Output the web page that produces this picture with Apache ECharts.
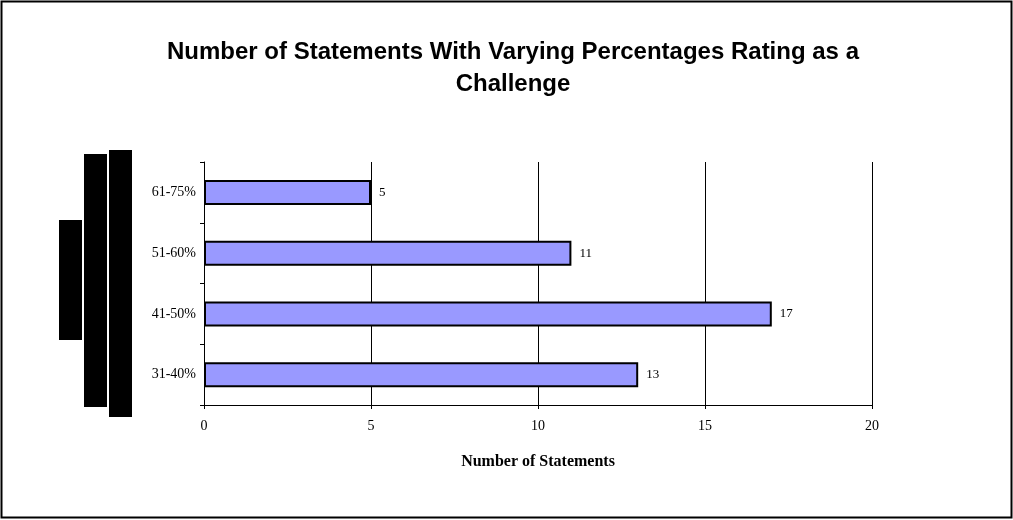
<!DOCTYPE html>
<html><head><meta charset="utf-8">
<script src="https://cdn.jsdelivr.net/npm/echarts@6/dist/echarts.min.js"></script>
<style>html,body{margin:0;padding:0;background:#fff}#c{width:1013px;height:520px}</style>
</head><body><div id="c"></div>
<script>
const categories = ['31-40%', '41-50%', '51-60%', '61-75%'];
const values = [13, 17, 11, 5];
const xTicks = [0, 5, 10, 15, 20];
const titleText = 'Number of Statements With Varying Percentages Rating as a\nChallenge';
const xName = 'Number of Statements';

const chart = echarts.init(document.getElementById('c'), null, {renderer: 'canvas'});
chart.setOption({
  animation: false,
  backgroundColor: '#fff',
  title: {
    text: titleText, left: 508, top: 31, textAlign: 'center',
    textStyle: {fontFamily: 'Liberation Sans, Arial', fontWeight: 'bold', fontSize: 24, color: '#000', lineHeight: 32}
  },
  grid: {left: 204, right: 141, top: 162, bottom: 115},
  xAxis: {
    type: 'value', min: xTicks[0], max: xTicks[xTicks.length - 1], interval: 5,
    name: xName, nameLocation: 'middle', nameGap: 49,
    nameTextStyle: {fontFamily: 'Liberation Serif, Times New Roman', fontWeight: 'bold', fontSize: 16, color: '#000'},
    axisLine: {show: true, lineStyle: {color: '#000', width: 1}},
    axisTick: {show: true, length: 4, inside: false, lineStyle: {color: '#000'}},
    axisLabel: {fontFamily: 'Liberation Serif, Times New Roman', fontSize: 14, color: '#000', margin: 14},
    splitLine: {show: true, lineStyle: {color: '#000', width: 1}}
  },
  yAxis: {
    type: 'category', data: categories,
    axisLine: {show: true, onZero: false, lineStyle: {color: '#000', width: 1}},
    axisTick: {show: true, length: 4, lineStyle: {color: '#000'}},
    axisLabel: {fontFamily: 'Liberation Serif, Times New Roman', fontSize: 14, color: '#000', margin: 8},
    splitLine: {show: false}
  },
  series: [{
    type: 'bar', data: values, barWidth: 25,
    itemStyle: {color: '#9999ff', borderColor: '#000', borderWidth: 2},
    label: {show: true, position: 'right', distance: 8, fontFamily: 'Liberation Serif, Times New Roman', fontSize: 13, color: '#000'}
  }],
  graphic: [
    {type: 'rect', shape: {x: 1.5, y: 1.5, width: 1010, height: 516}, style: {fill: 'none', stroke: '#000', lineWidth: 2}, silent: true},
    {type: 'rect', shape: {x: 59, y: 220, width: 23, height: 120}, style: {fill: '#000'}, silent: true},
    {type: 'rect', shape: {x: 84, y: 154, width: 23, height: 253}, style: {fill: '#000'}, silent: true},
    {type: 'rect', shape: {x: 109, y: 150, width: 23, height: 267}, style: {fill: '#000'}, silent: true}
  ]
});
</script></body></html>
